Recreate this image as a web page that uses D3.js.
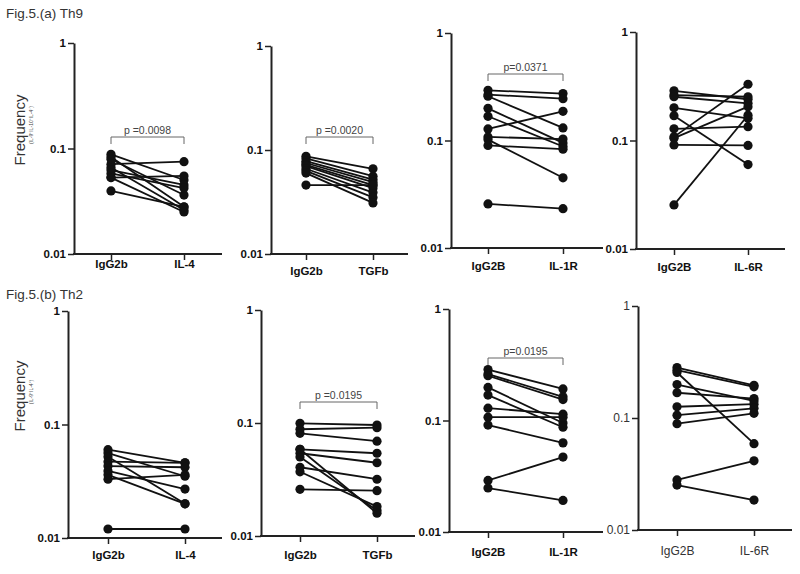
<!DOCTYPE html>
<html>
<head>
<meta charset="utf-8">
<script src="https://cdn.jsdelivr.net/npm/d3@7"></script>
<style>
  html, body { margin: 0; padding: 0; background: #fff; }
  svg { display: block; }
</style>
</head>
<body>
<svg id="chart" width="800" height="574"></svg>
<script>
// ---------- DATA ----------
const yTicks = [0.01, 0.1, 1];
const yTickLabels = ["0.01", "0.1", "1"];

const titleA = "Fig.5.(a) Th9";
const titleB = "Fig.5.(b) Th2";
const yLabel = "Frequency";
const ySubA = "(IL-9\u207AIL-10\u207AIL-4\u207B)";
const ySubB = "(IL-9\u207AIL-4\u207A)";

const catsA1 = ["IgG2b", "IL-4"];
const catsA2 = ["IgG2b", "TGFb"];
const catsA3 = ["IgG2B", "IL-1R"];
const catsA4 = ["IgG2B", "IL-6R"];
const catsB1 = ["IgG2b", "IL-4"];
const catsB2 = ["IgG2b", "TGFb"];
const catsB3 = ["IgG2B", "IL-1R"];
const catsB4 = ["IgG2B", "IL-6R"];

// Th9, IL-4 panel
const a1Control = [0.088, 0.083, 0.079, 0.071, 0.066, 0.0625, 0.058, 0.053, 0.053, 0.0396];
const a1Treated = [0.0503, 0.028, 0.0362, 0.075, 0.0261, 0.0451, 0.0422, 0.0549, 0.025, 0.0279];
// Th9, TGFb panel
const a2Control = [0.087, 0.083, 0.078, 0.075, 0.072, 0.070, 0.066, 0.063, 0.060, 0.046];
const a2Treated = [0.066, 0.056, 0.052, 0.049, 0.046, 0.043, 0.039, 0.035, 0.031, 0.046];
// Th9, IL-1R panel
const a3Control = [0.293, 0.267, 0.258, 0.199, 0.168, 0.128, 0.108, 0.102, 0.090, 0.0257];
const a3Treated = [0.273, 0.245, 0.131, 0.095, 0.088, 0.187, 0.103, 0.045, 0.083, 0.0232];
// Th9, IL-6R panel
const a4Control = [0.287, 0.262, 0.253, 0.200, 0.169, 0.128, 0.108, 0.105, 0.091, 0.0255];
const a4Treated = [0.240, 0.253, 0.220, 0.160, 0.060, 0.134, 0.330, 0.205, 0.090, 0.171];
// Th2, IL-4 panel
const b1Control = [0.060, 0.056, 0.052, 0.047, 0.043, 0.039, 0.036, 0.033, 0.012];
const b1Treated = [0.046, 0.035, 0.020, 0.046, 0.042, 0.027, 0.020, 0.036, 0.012];
// Th2, TGFb panel
const b2Control = [0.0994, 0.088, 0.081, 0.0585, 0.054, 0.050, 0.0585, 0.0406, 0.037, 0.0259];
const b2Treated = [0.096, 0.091, 0.069, 0.054, 0.0445, 0.0168, 0.0159, 0.0318, 0.0182, 0.0252];
// Th2, IL-1R panel
const b3Control = [0.286, 0.261, 0.252, 0.198, 0.169, 0.129, 0.107, 0.091, 0.029, 0.0248];
const b3Treated = [0.192, 0.163, 0.154, 0.095, 0.087, 0.114, 0.107, 0.063, 0.047, 0.0192];
// Th2, IL-6R panel
const b4Control = [0.282, 0.267, 0.255, 0.199, 0.168, 0.126, 0.106, 0.089, 0.028, 0.0252];
const b4Treated = [0.196, 0.190, 0.059, 0.142, 0.149, 0.133, 0.122, 0.110, 0.0415, 0.0185];

const pA1 = "p =0.0098";
const pA2 = "p =0.0020";
const pA3 = "p=0.0371";
const pB2 = "p =0.0195";
const pB3 = "p=0.0195";

// ---------- LAYOUT ----------
const panels = [
  {cats: catsA1, c: a1Control, t: a1Treated, ax: 74,  top: 43,  bot: 254, c1: 111, c2: 184, xEnd: 222, labDy: 15, p: pA1, pY: 137, bold: true},
  {cats: catsA2, c: a2Control, t: a2Treated, ax: 271, top: 46,  bot: 254, c1: 306, c2: 373, xEnd: 408, labDy: 22, p: pA2, pY: 137, bold: true},
  {cats: catsA3, c: a3Control, t: a3Treated, ax: 451, top: 33,  bot: 248, c1: 488, c2: 563, xEnd: 603, labDy: 23, p: pA3, pY: 74,  bold: true},
  {cats: catsA4, c: a4Control, t: a4Treated, ax: 636, top: 32,  bot: 249, c1: 674, c2: 748, xEnd: 785, labDy: 23, p: null, bold: true},
  {cats: catsB1, c: b1Control, t: b1Treated, ax: 68,  top: 311, bot: 538, c1: 108, c2: 185, xEnd: 222, labDy: 22, p: null, bold: true},
  {cats: catsB2, c: b2Control, t: b2Treated, ax: 261, top: 310, bot: 536, c1: 300, c2: 377, xEnd: 415, labDy: 24, p: pB2, pY: 402, bold: true},
  {cats: catsB3, c: b3Control, t: b3Treated, ax: 449, top: 309, bot: 532, c1: 488, c2: 563, xEnd: 603, labDy: 25, p: pB3, pY: 358, bold: true},
  {cats: catsB4, c: b4Control, t: b4Treated, ax: 638, top: 306, bot: 530, c1: 677, c2: 754, xEnd: 792, labDy: 25, p: null, bold: false}
];

const svg = d3.select("#chart");
const FONT = "'Liberation Sans', Arial, sans-serif";

// titles
svg.append("text").attr("x", 6).attr("y", 18).attr("font-family", FONT)
  .attr("font-size", 13.5).attr("fill", "#333").text(titleA);
svg.append("text").attr("x", 6).attr("y", 299).attr("font-family", FONT)
  .attr("font-size", 13.5).attr("fill", "#333").text(titleB);

// y labels
function yLab(cy, sub, subCy) {
  svg.append("text").attr("transform", `translate(25,${cy}) rotate(-90)`)
    .attr("text-anchor", "middle").attr("font-family", FONT).attr("font-size", 15)
    .attr("fill", "#333").text(yLabel);
  svg.append("text").attr("transform", `translate(33,${subCy}) rotate(-90)`)
    .attr("text-anchor", "middle").attr("font-family", FONT).attr("font-size", 5)
    .attr("fill", "#444").text(sub);
}
yLab(130, ySubA, 125);
yLab(396, ySubB, 392);

panels.forEach(P => {
  const g = svg.append("g");
  const y = d3.scaleLog().domain([0.01, 1]).range([P.bot, P.top]);
  const x = d3.scalePoint().domain(P.cats).range([P.c1, P.c2]);
  const weight = P.bold ? "bold" : "normal";
  const tcol = P.bold ? "#111" : "#333";
  const fs = P.bold ? 11.5 : 12;

  // y axis
  const ya = g.append("g").attr("transform", `translate(${P.ax},0)`)
    .call(d3.axisLeft(y).tickValues(yTicks).tickFormat((d, i) => yTickLabels[i])
      .tickSize(6).tickSizeOuter(0).tickPadding(2));
  ya.select(".domain").attr("stroke", "#222").attr("stroke-width", 2);
  ya.selectAll(".tick line").attr("stroke", "#222").attr("stroke-width", 1.5);
  ya.selectAll(".tick text").attr("font-family", FONT).attr("font-size", fs)
    .attr("font-weight", weight).attr("fill", tcol);

  // x axis
  const xa = g.append("g").attr("transform", `translate(0,${P.bot})`)
    .call(d3.axisBottom(x).tickSize(6).tickSizeOuter(0).tickPadding(P.labDy - 15));
  xa.select(".domain").remove();
  xa.selectAll(".tick line").attr("stroke", "#222").attr("stroke-width", 1.5);
  xa.selectAll(".tick text").attr("font-family", FONT).attr("font-size", fs)
    .attr("font-weight", weight).attr("fill", tcol);
  g.append("line").attr("x1", P.ax - 1).attr("x2", P.xEnd)
    .attr("y1", P.bot).attr("y2", P.bot).attr("stroke", "#222").attr("stroke-width", 2);

  // paired lines
  const pairs = P.c.map((v, i) => [v, P.t[i]]);
  g.selectAll("line.pair").data(pairs).join("line").attr("class", "pair")
    .attr("x1", x(P.cats[0])).attr("x2", x(P.cats[1]))
    .attr("y1", d => y(d[0])).attr("y2", d => y(d[1]))
    .attr("stroke", "#111").attr("stroke-width", 1.8);
  // dots
  g.selectAll("circle.c0").data(P.c).join("circle")
    .attr("cx", x(P.cats[0])).attr("cy", d => y(d)).attr("r", 4.6).attr("fill", "#111");
  g.selectAll("circle.c1").data(P.t).join("circle")
    .attr("cx", x(P.cats[1])).attr("cy", d => y(d)).attr("r", 4.6).attr("fill", "#111");

  // p-value bracket
  if (P.p) {
    const b = g.append("g").attr("stroke", "#666").attr("stroke-width", 1).attr("fill", "none");
    b.append("line").attr("x1", P.c1).attr("x2", P.c2).attr("y1", P.pY).attr("y2", P.pY);
    b.append("line").attr("x1", P.c1).attr("x2", P.c1).attr("y1", P.pY).attr("y2", P.pY + 7);
    b.append("line").attr("x1", P.c2).attr("x2", P.c2).attr("y1", P.pY).attr("y2", P.pY + 7);
    g.append("text").attr("x", (P.c1 + P.c2) / 2).attr("y", P.pY - 3)
      .attr("text-anchor", "middle").attr("font-family", FONT).attr("font-size", 10.5)
      .attr("fill", "#444").text(P.p);
  }
});
</script>
</body>
</html>
